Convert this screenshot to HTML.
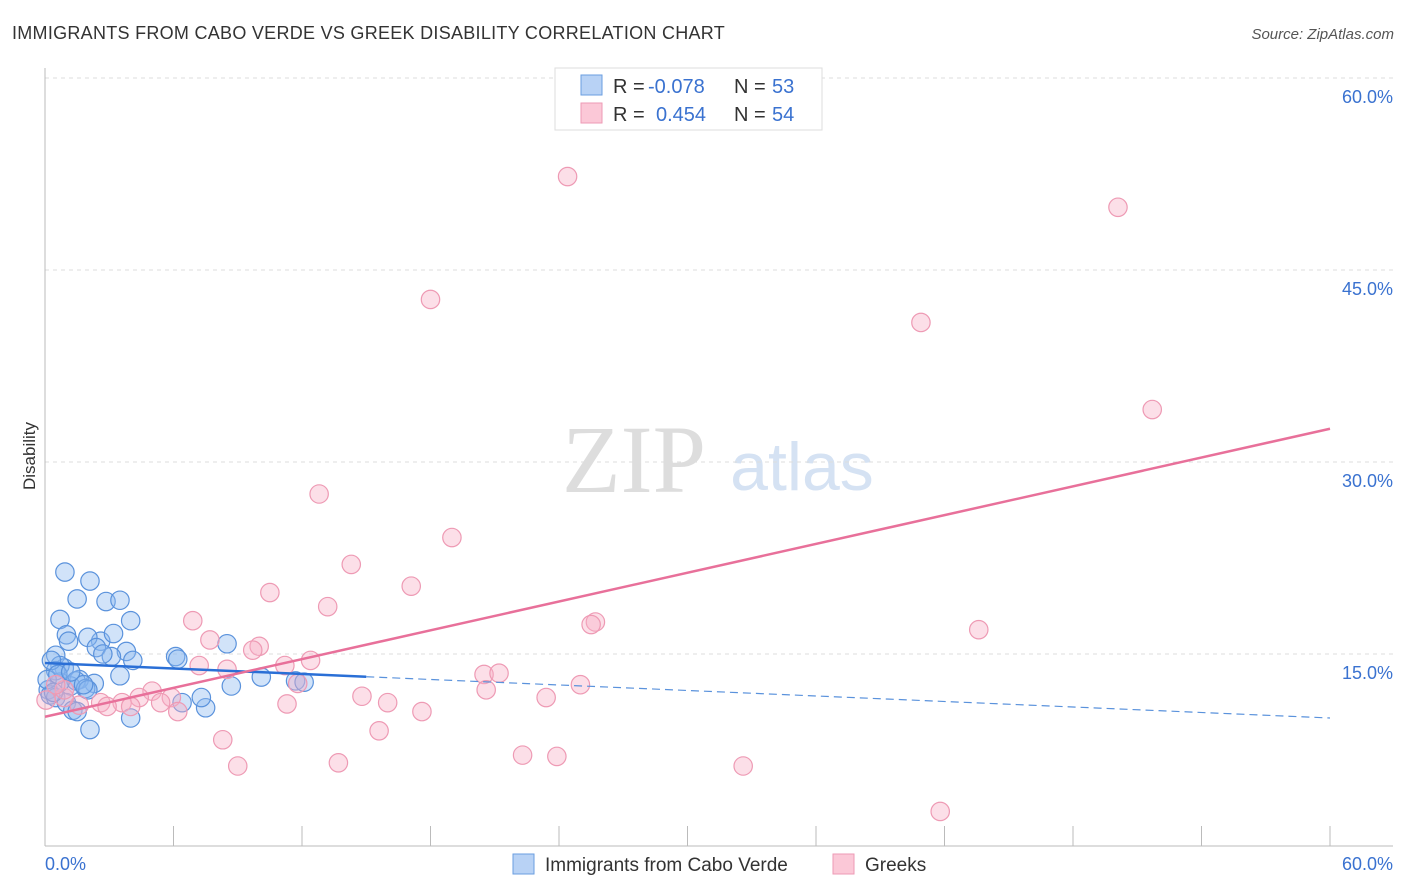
<!DOCTYPE html>
<html><head><meta charset="utf-8"><style>
body{margin:0;background:#fff;font-family:"Liberation Sans",sans-serif;}
svg{display:block}
</style></head><body>
<svg id="chart" width="1406" height="892">
<text x="12" y="39" font-size="18" fill="#333" letter-spacing="0.28">IMMIGRANTS FROM CABO VERDE VS GREEK DISABILITY CORRELATION CHART</text>
<text x="1394" y="39" font-size="15" fill="#555" font-style="italic" text-anchor="end">Source: ZipAtlas.com</text>
<text x="634" y="492" font-size="96" fill="#ddd" font-family="Liberation Serif,serif" text-anchor="middle">ZIP</text>
<text x="802" y="490" font-size="68" fill="#d5e2f3" text-anchor="middle">atlas</text>
<g id="grid"></g><g id="axes"></g><g id="pts"></g><g id="lines"></g>
<text x="35" y="456" font-size="17" fill="#333" text-anchor="middle" transform="rotate(-90 35 456)">Disability</text>
<g>
<rect x="555" y="68" width="267" height="62" fill="#fff" stroke="#ddd"/>
<rect x="581" y="75" width="21" height="20" fill="#b8d2f5" stroke="#6a9ee0"/>
<rect x="581" y="103" width="21" height="20" fill="#fbc8d7" stroke="#ee9ab4"/>
<text y="93" font-size="20"><tspan x="613" fill="#333">R = </tspan><tspan x="648" fill="#3a72d0">-0.078</tspan><tspan x="734" fill="#333">N = </tspan><tspan x="772" fill="#3a72d0">53</tspan></text>
<text y="121" font-size="20"><tspan x="613" fill="#333">R = </tspan><tspan x="656" fill="#3a72d0">0.454</tspan><tspan x="734" fill="#333">N = </tspan><tspan x="772" fill="#3a72d0">54</tspan></text>
</g>
<g>
<rect x="513" y="854" width="21" height="20" fill="#b8d2f5" stroke="#6a9ee0"/>
<text x="545" y="871" font-size="19" fill="#333">Immigrants from Cabo Verde</text>
<rect x="833" y="854" width="21" height="20" fill="#fbc8d7" stroke="#ee9ab4"/>
<text x="865" y="871" font-size="19" fill="#333">Greeks</text>
</g>
</svg>
<script>
const blueX=[0.93,2.1,1.5,2.85,3.5,0.7,4.0,1.0,1.1,2.6,2.0,3.2,3.8,2.4,4.1,3.1,0.5,0.9,0.7,6.1,6.2,8.5,10.1,11.7,12.1,3.5,2.3,1.6,1.2,1.45,1.9,0.7,0.15,0.25,0.5,1.0,1.3,1.5,2.1,4.0,6.4,7.5,7.3,8.7,0.5,0.3,2.0,0.1,0.6,1.8,2.7,0.4,1.2];
const blueY=[21.4,20.7,19.3,19.1,19.2,17.7,17.6,16.5,16.0,16.0,16.3,16.6,15.2,15.5,14.5,14.8,14.9,13.9,14.1,14.8,14.6,15.8,13.2,12.9,12.8,13.3,12.7,13.0,12.5,12.9,12.3,12.8,12.2,11.8,11.6,11.2,10.6,10.5,9.1,10.0,11.2,10.8,11.6,12.5,13.7,14.5,12.2,13.0,13.4,12.6,15.0,12.0,13.6];
const pinkX=[24.4,50.1,18.0,40.9,51.7,12.8,19.0,14.3,17.1,10.5,13.2,25.7,25.5,43.6,6.9,7.7,10.0,9.7,12.4,11.2,7.2,8.5,20.5,21.2,11.8,25.0,20.6,14.8,23.4,5.0,4.4,3.6,5.9,5.4,4.0,2.6,2.9,16.0,11.3,6.2,17.6,1.6,0.9,0.9,0.5,15.6,8.3,22.3,23.9,9.0,13.7,32.6,41.8,0.05];
const pinkY=[52.3,49.9,42.7,40.9,34.1,27.5,24.1,22.0,20.3,19.8,18.7,17.5,17.3,16.9,17.6,16.1,15.6,15.3,14.5,14.1,14.1,13.8,13.4,13.5,12.7,12.6,12.2,11.7,11.6,12.1,11.6,11.2,11.6,11.2,10.9,11.2,10.9,11.2,11.1,10.5,10.5,11.0,11.6,12.2,12.6,9.0,8.3,7.1,7.0,6.25,6.5,6.25,2.7,11.4];
const yTicks=[15,30,45,60];
const xTicks=[0,6,12,18,24,30,36,42,48,54,60];
const blueTrend=[14.3,10.0], blueSolidEnd=15;
const pinkTrend=[10.1,32.6];
const NS='http://www.w3.org/2000/svg';
const sx=v=>45+v/60*1285, sy=v=>846-v/60*768;
function mk(tag,attrs,parent){const e=document.createElementNS(NS,tag);for(const k in attrs)e.setAttribute(k,attrs[k]);document.getElementById(parent).appendChild(e);return e;}
yTicks.forEach(t=>{
 const l=mk('line',{x1:45,x2:1393,y1:sy(t),y2:sy(t),stroke:'#ddd','stroke-dasharray':'4,4'},'grid');
 
 
 const tx=mk('text',{x:1393,y:sy(t)+25,'font-size':18,fill:'#3a72d0','text-anchor':'end'},'grid');
 tx.textContent=t.toFixed(1)+'%';
 
 
});
let a=mk('line',{x1:45,x2:45,y1:68,y2:846,stroke:'#bbb'},'axes');


a=mk('line',{x1:45,x2:1393,y1:846,y2:846,stroke:'#bbb'},'axes');


xTicks.forEach(t=>{const l=mk('line',{x1:sx(t),x2:sx(t),y1:826,y2:846,stroke:'#bbb'},'axes');
 
 });
[[0,'start',45],[60,'end',1393]].forEach(([v,anc,x])=>{const t=mk('text',{x:x,y:870,'font-size':18,fill:'#3a72d0','text-anchor':anc},'axes');t.textContent=v.toFixed(1)+'%';
 
 });
blueX.forEach((x,i)=>{const c=mk('circle',{cx:sx(x),cy:sy(blueY[i]),r:9.2,fill:'rgba(140,185,240,0.4)',stroke:'#5a92dc','stroke-width':1.2},'pts');
 
 });
pinkX.forEach((x,i)=>{const c=mk('circle',{cx:sx(x),cy:sy(pinkY[i]),r:9.2,fill:'rgba(248,175,198,0.4)',stroke:'#ee9ab4','stroke-width':1.2},'pts');
 
 });
const bAt=v=>blueTrend[0]+(blueTrend[1]-blueTrend[0])*v/60;
let l=mk('line',{x1:sx(0),y1:sy(bAt(0)),x2:sx(blueSolidEnd),y2:sy(bAt(blueSolidEnd)),stroke:'#2a6fd6','stroke-width':2.5},'lines');


l=mk('line',{x1:sx(blueSolidEnd),y1:sy(bAt(blueSolidEnd)),x2:sx(60),y2:sy(bAt(60)),stroke:'#5a92dc','stroke-width':1.2,'stroke-dasharray':'8,5'},'lines');


l=mk('line',{x1:sx(0),y1:sy(pinkTrend[0]),x2:sx(60),y2:sy(pinkTrend[1]),stroke:'#e8709a','stroke-width':2.5},'lines');


</script>
</body></html>
